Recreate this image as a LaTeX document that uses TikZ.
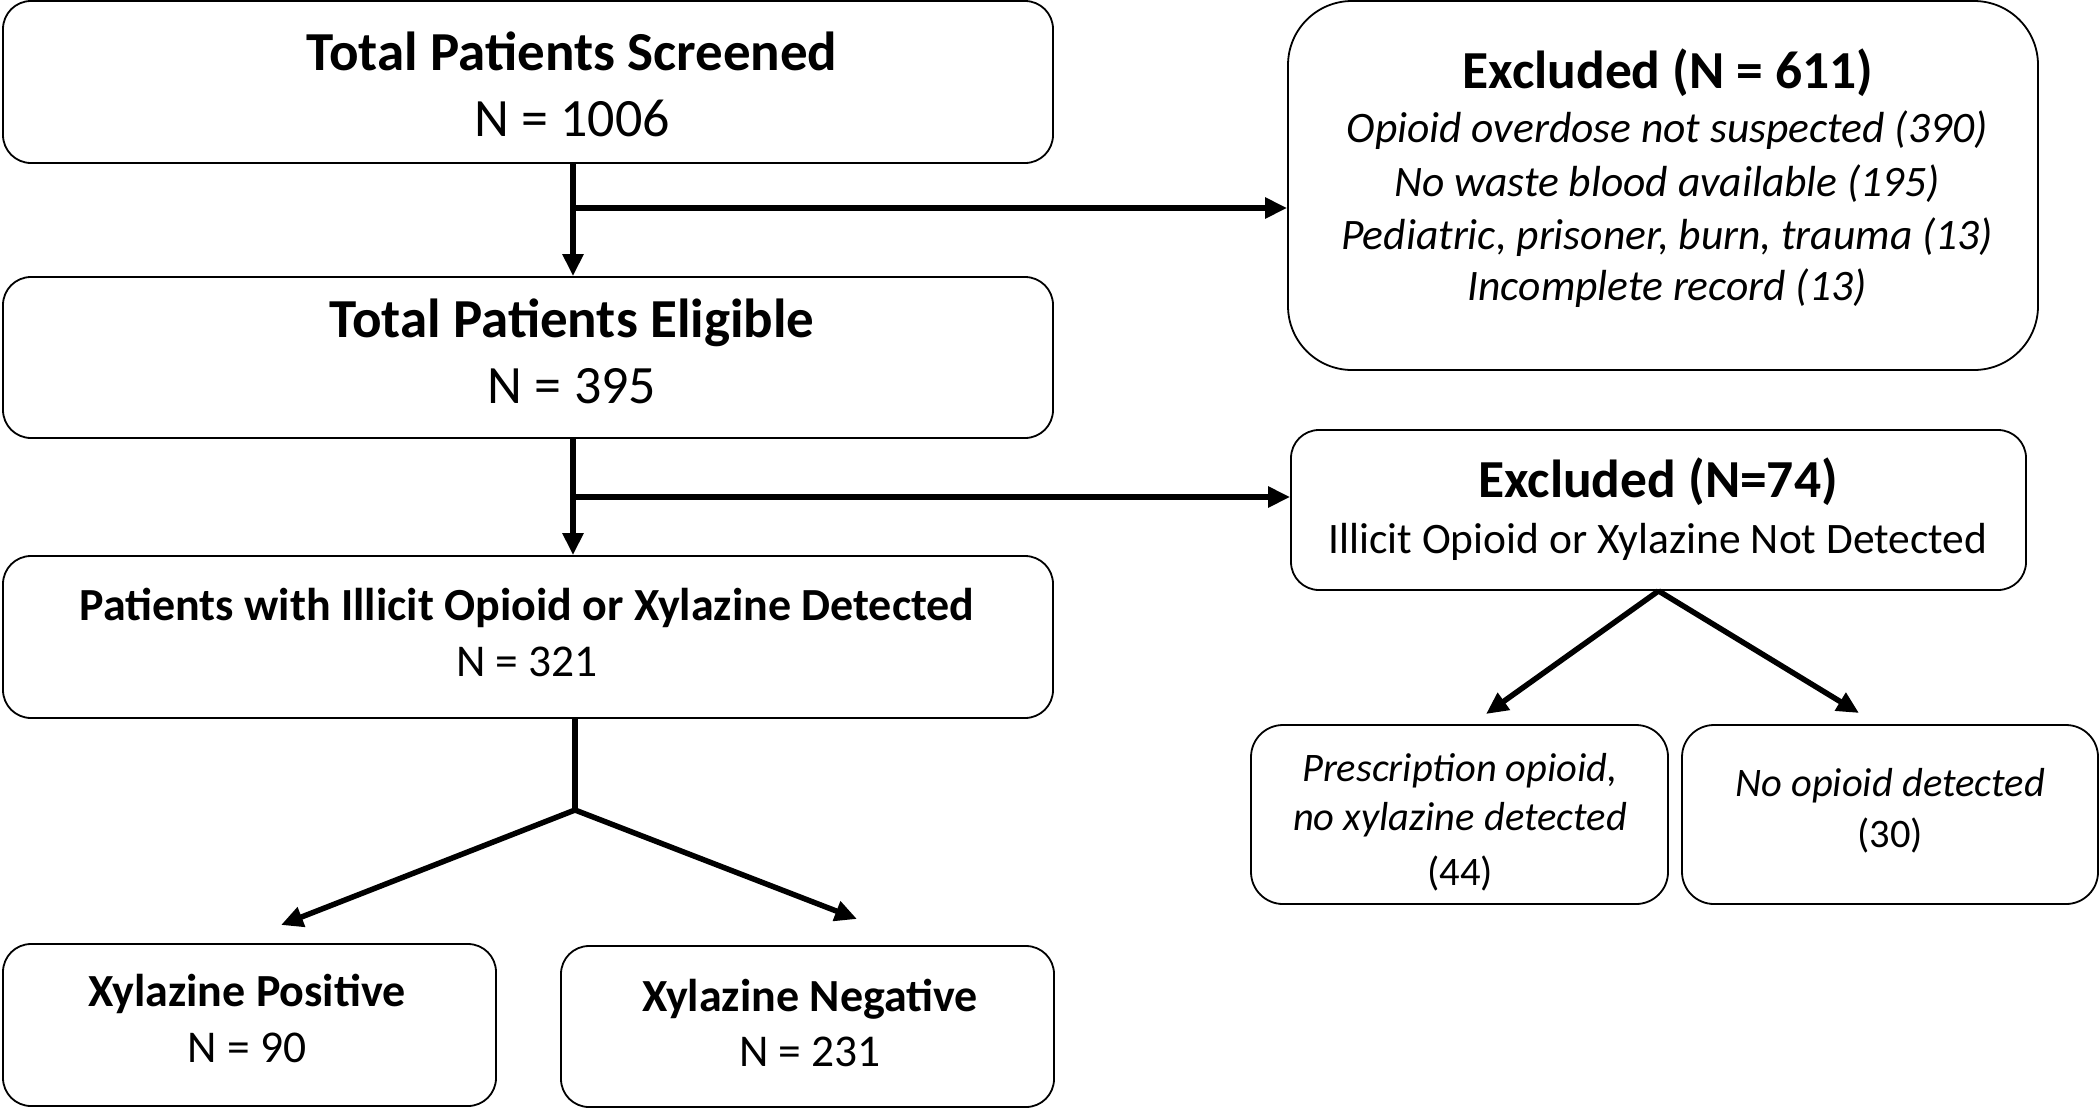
\documentclass[tikz,border=0pt]{standalone}
\usepackage{fontspec}
\setmainfont{Carlito}
\usetikzlibrary{arrows.meta}
\begin{document}
\begin{tikzpicture}[x=1pt,y=-1pt,
  box/.style={draw=black, line width=1.8pt, rounded corners=28pt, inner sep=0pt, fill=white},
  bigttl/.style={font=\bfseries\fontsize{55}{62}\selectfont, anchor=base, inner sep=0pt},
  bignum/.style={font=\fontsize{54}{60}\selectfont, anchor=base, inner sep=0pt},
  midttl/.style={font=\bfseries\fontsize{46}{52}\selectfont, anchor=base, inner sep=0pt},
  midnum/.style={font=\fontsize{45.5}{52}\selectfont, anchor=base, inner sep=0pt},
  exttl/.style={font=\bfseries\fontsize{53.5}{60}\selectfont, anchor=base, inner sep=0pt},
  exit/.style={font=\itshape\fontsize{43.5}{50}\selectfont, anchor=base, inner sep=0pt},
  exrm/.style={font=\fontsize{43.5}{50}\selectfont, anchor=base, inner sep=0pt},
  smit/.style={font=\itshape\fontsize{40.5}{46}\selectfont, anchor=base, inner sep=0pt},
  smrm/.style={font=\fontsize{40.5}{46}\selectfont, anchor=base, inner sep=0pt},
  ln/.style={line width=5.5pt},
  arr/.style={line width=5.5pt, -{Triangle[length=22pt,width=20pt]}},
]
\useasboundingbox (0,0) rectangle (2100,1109);

% boxes
\node[box, minimum width=1050pt, minimum height=162pt] (b1) at (528,82) {};
\node[box, minimum width=1050pt, minimum height=161pt] (b2) at (528,357.5) {};
\node[box, minimum width=1050pt, minimum height=162pt] (b3) at (528,637) {};
\node[box, minimum width=493pt, minimum height=162pt] (b4) at (249.5,1025) {};
\node[box, minimum width=493pt, minimum height=161pt] (b5) at (807.5,1026.5) {};
\node[box, rounded corners=64pt, minimum width=750pt, minimum height=369pt] (ex1) at (1663,185.5) {};
\node[box, minimum width=735pt, minimum height=160pt] (ex2) at (1658.5,510) {};
\node[box, rounded corners=32pt, minimum width=417pt, minimum height=179pt] (b6) at (1459.5,814.5) {};
\node[box, rounded corners=32pt, minimum width=416pt, minimum height=179pt] (b7) at (1890,814.5) {};

% texts
\node[bigttl] (t1a) at (572,70) {Total Patients Screened};
\node[bignum] (t1b) at (572,136) {N = 1006};
\node[bigttl] (t2a) at (572,337.5) {Total Patients Eligible};
\node[bignum] (t2b) at (572,403.6) {N = 395};
\node[midttl] (t3a) at (527,620) {Patients with Illicit Opioid or Xylazine Detected};
\node[midnum] (t3b) at (527,676) {N = 321};
\node[midttl] (t4a) at (247,1006) {Xylazine Positive};
\node[midnum] (t4b) at (247,1062) {N = 90};
\node[midttl] (t5a) at (810,1011) {Xylazine Negative};
\node[midnum] (t5b) at (810,1066) {N = 231};

\node[exttl] (e1a) at (1668,88) {Excluded (N = 611)};
\node[exit] (e1b) at (1667,142) {Opioid overdose not suspected (390)};
\node[exit] (e1c) at (1667,196) {No waste blood available (195)};
\node[exit] (e1d) at (1667,249) {Pediatric, prisoner, burn, trauma (13)};
\node[exit] (e1e) at (1667,300) {Incomplete record (13)};

\node[exttl] (e2a) at (1658,497.5) {Excluded (N=74)};
\node[exrm] (e2b) at (1658,553) {Illicit Opioid or Xylazine Not Detected};

\node[smit] (t6a) at (1460,781) {Prescription opioid,};
\node[smit] (t6b) at (1460,830) {no xylazine detected};
\node[smrm] (t6c) at (1460,885) {(44)};
\node[smit] (t7a) at (1890,796) {No opioid detected};
\node[smrm] (t7b) at (1890,847) {(30)};

% connectors
\coordinate (s1) at (573,208);
\coordinate (s2) at (573,497);
\coordinate (s3) at (575,810);
\coordinate (p4) at (281,925);
\coordinate (p5) at (857,919);
\coordinate (p6) at (1486,714);
\coordinate (p7) at (1859,713);

\draw[arr] (b1.south -| s1) -- (b2.north -| s1);
\draw[arr] (s1) -- (ex1.west |- s1);
\draw[arr] (b2.south -| s2) -- (b3.north -| s2);
\draw[arr] (s2) -- (ex2.west |- s2);
\draw[ln] (b3.south -| s3) -- (s3);
\draw[arr] (s3) -- (p4);
\draw[arr] (s3) -- (p5);
\draw[arr] (ex2.south) -- (p6);
\draw[arr] (ex2.south) -- (p7);
\end{tikzpicture}
\end{document}
